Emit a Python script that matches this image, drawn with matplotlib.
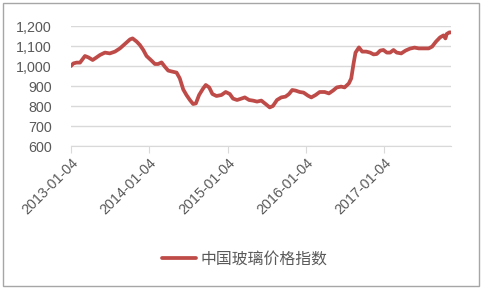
import matplotlib
matplotlib.use("Agg")
import matplotlib.pyplot as plt
from matplotlib.patches import Rectangle
import pandas as pd

# data (weekly index, approximate)
dates = [
    "2013-01-04", "2013-01-15", "2013-01-30", "2013-02-15", "2013-03-10", "2013-03-26",
    "2013-04-15", "2013-05-03", "2013-05-19", "2013-06-11", "2013-07-04", "2013-07-28",
    "2013-08-20", "2013-09-12", "2013-10-06", "2013-10-18", "2013-11-06", "2013-11-21",
    "2013-12-07", "2013-12-22", "2014-01-14", "2014-01-30", "2014-02-14", "2014-03-02",
    "2014-03-17", "2014-04-02", "2014-04-17", "2014-05-11", "2014-05-26", "2014-06-11",
    "2014-06-26", "2014-07-12", "2014-07-27", "2014-08-09", "2014-08-24", "2014-09-12",
    "2014-09-24", "2014-10-10", "2014-10-25", "2014-11-13", "2014-12-06", "2014-12-26",
    "2015-01-14", "2015-01-29", "2015-02-17", "2015-03-09", "2015-03-25", "2015-04-14",
    "2015-05-02", "2015-05-21", "2015-06-10", "2015-06-30", "2015-07-19", "2015-08-03",
    "2015-08-22", "2015-09-11", "2015-10-01", "2015-10-17", "2015-11-01", "2015-11-17",
    "2015-12-06", "2015-12-24", "2016-01-13", "2016-01-29", "2016-02-18", "2016-03-08",
    "2016-03-31", "2016-04-20", "2016-05-09", "2016-05-27", "2016-06-16", "2016-07-02",
    "2016-07-22", "2016-08-02", "2016-08-13", "2016-08-22", "2016-09-07", "2016-09-22",
    "2016-10-11", "2016-10-29", "2016-11-14", "2016-11-29", "2016-12-15", "2016-12-30",
    "2017-01-15", "2017-01-30", "2017-02-15", "2017-03-02", "2017-03-23", "2017-04-12",
    "2017-05-03", "2017-05-24", "2017-06-13", "2017-07-05", "2017-07-29", "2017-08-14",
    "2017-09-01", "2017-09-20", "2017-10-06", "2017-10-15", "2017-10-21", "2017-11-02",
    "2017-11-10",
]
index = [
    1000, 1013, 1017, 1017, 1050, 1043,
    1030, 1043, 1055, 1067, 1063, 1072,
    1088, 1110, 1133, 1138, 1122, 1105,
    1080, 1050, 1027, 1010, 1010, 1018,
    997, 977, 973, 967, 938, 883,
    855, 830, 810, 813, 855, 888,
    905, 893, 860, 850, 855, 870,
    860, 837, 830, 837, 843, 830,
    827, 822, 827, 810, 793, 800,
    830, 843, 847, 860, 880, 877,
    870, 867, 852, 843, 855, 870,
    870, 863, 877, 893, 897, 893,
    913, 938, 1013, 1067, 1093, 1072,
    1072, 1067, 1058, 1060, 1077, 1080,
    1067, 1067, 1080, 1067, 1063, 1077,
    1087, 1092, 1088, 1088, 1088, 1097,
    1122, 1143, 1153, 1138, 1160, 1168,
    1168,
]
tick_dates = ["2013-01-04", "2014-01-04", "2015-01-04", "2016-01-04", "2017-01-04"]
yticks = [600, 700, 800, 900, 1000, 1100, 1200]
series_name = "中国玻璃价格指数"

plt.rcParams['font.family'] = ['Liberation Sans', 'Noto Sans CJK SC']
text_color = "#595959"

x = pd.to_datetime(dates)
fig = plt.figure(figsize=(4.84, 2.92), dpi=100)
ax = fig.add_axes([71/484, 0.5, 380/484, 120/292])

ax.plot(x, index, color="#BE4B48", lw=2.7, solid_capstyle='round',
        solid_joinstyle='round', label=series_name)

ax.set_ylim(600, 1200)
ax.set_yticks(yticks)
ax.set_yticklabels(["{:,}".format(v) for v in yticks])
ax.set_xlim(x[0], x[-1])
ticks = pd.to_datetime(tick_dates)
ax.set_xticks(ticks)
ax.set_xticklabels([t.strftime("%Y-%m-%d") for t in ticks],
                   rotation=45, ha='right', rotation_mode='anchor')

ax.grid(axis='y', color="#d9d9d9", lw=1)
ax.set_axisbelow(True)
for s in ['top', 'right', 'left']:
    ax.spines[s].set_visible(False)
ax.spines['bottom'].set_color("#d9d9d9")
ax.tick_params(axis='x', colors=text_color, labelsize=10.3, length=5,
               color="#d9d9d9", pad=2)
ax.tick_params(axis='y', colors=text_color, labelsize=10.3, length=0, pad=14)

fig.legend(loc='center', bbox_to_anchor=(0.505, 0.113), frameon=False,
           fontsize=11.4, handlelength=2.2, handletextpad=0.25,
           labelcolor=text_color)

# thin grey frame round the whole picture
fig.patches.append(Rectangle((3/484, 6/292), 476/484, 283/292,
                             transform=fig.transFigure, fill=False,
                             edgecolor="#a6a6a6", lw=1))

fig.savefig("out.png", dpi=100)
